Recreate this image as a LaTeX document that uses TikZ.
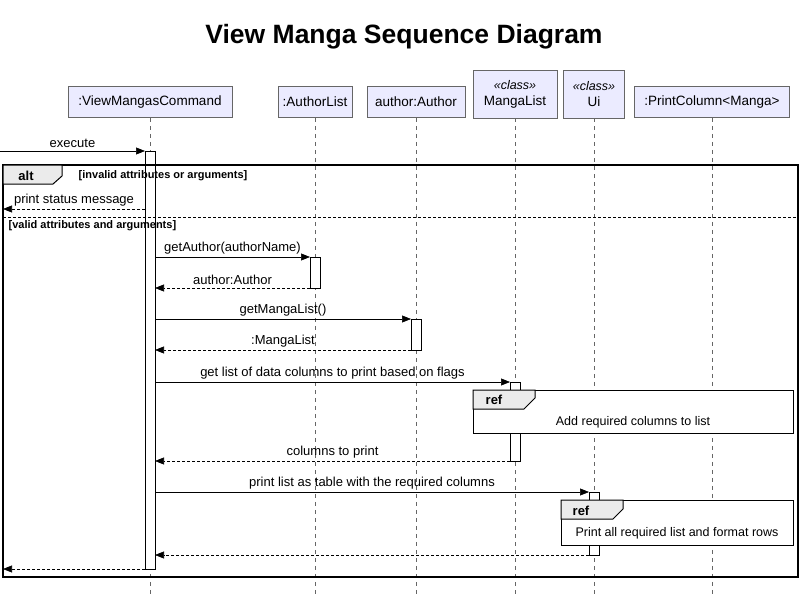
\documentclass[tikz,border=0pt]{standalone}
\usepackage{fontspec}
\setmainfont{Liberation Sans}
\usetikzlibrary{arrows.meta}
\tikzset{every picture/.style={line width=0.75pt}}
\tikzset{
	head/.style={draw=black!60,fill=blue!8,minimum height=31pt,inner sep=3pt,font=\fontsize{13.5}{16}\selectfont},
	life/.style={black!60,dash pattern=on 4pt off 4pt,line width=0.5pt},
	act/.style={draw,fill=white,line width=0.6pt},
	msg/.style={-{Triangle[length=9pt,width=7pt]},line width=0.6pt},
	ret/.style={msg,densely dashed},
	lbl/.style={font=\fontsize{13}{15}\selectfont,above,inner sep=3pt},
	tab/.style={draw,fill=black!8,line width=1pt},
	frm/.style={draw,line width=1.2pt},
}
\begin{document}
\begin{tikzpicture}[x=1pt,y=-1pt]
	\useasboundingbox (0,0) rectangle (805,600);
	\node [font=\bfseries\fontsize{26.5}{30}\selectfont](title) at (404,37) {View Manga Sequence Diagram};
	% participants
	\node [head,minimum width=164pt](vmc) at (150,102) {:ViewMangasCommand};
	\node [head,minimum width=74pt](al) at (315,102) {:AuthorList};
	\node [head,minimum width=98pt](au) at (416,102) {author:Author};
	\node [head,minimum width=84pt,minimum height=48pt,align=center](ml) at (515,94) {{\itshape\fontsize{12.5}{15}\selectfont «class»}\\MangaList};
	\node [head,minimum width=61pt,minimum height=48pt,align=center](ui) at (594,94) {{\itshape\fontsize{12.5}{15}\selectfont «class»}\\Ui};
	\node [head,minimum width=155pt](pc) at (712,102) {:PrintColumn<Manga>};
	\foreach \n in {vmc,al,au,ml,ui,pc}
		\draw [life] (\n.south) -- (\n.south |- 0,595);
	% alt frame
	\fill [white] (145,151) rectangle (155,569);
	\draw [frm] (3,165) rectangle (798,577);
	\draw [tab] (3,165) -- (62,165) -- (62,176) -- (53,184) -- (3,184) -- cycle;
	\node [font=\bfseries\fontsize{13}{15}\selectfont](alt) at (26,176) {alt};
	\node [font=\bfseries\fontsize{11}{13}\selectfont,anchor=west](g1) at (75,176) {[invalid attributes or arguments]};
	\draw [densely dashed,line width=0.5pt] (3,217) -- (798,217);
	\node [font=\bfseries\fontsize{11}{13}\selectfont,anchor=west](g2) at (5,226) {[valid attributes and arguments]};
	% activations
	\draw [line width=0.6pt] (145,151) rectangle (155,569);
	\draw [act] (310,257) rectangle (320,288);
	\draw [act] (411,319) rectangle (421,350);
	\draw [act] (510,382) rectangle (520,461);
	\draw [act] (589,492) rectangle (599,555);
	% refs
	\draw [frm,fill=white,line width=1pt] (473,390) rectangle (793,433);
	\draw [tab] (473,390) -- (535,390) -- (535,398) -- (524,409) -- (473,409) -- cycle;
	\node [font=\bfseries\fontsize{13}{15}\selectfont](r1) at (494,400) {ref};
	\node [font=\fontsize{12.5}{15}\selectfont](r1t) at (633,422) {Add required columns to list};
	\draw [frm,fill=white,line width=1pt] (561,500) rectangle (793,545);
	\draw [tab] (561,500) -- (623,500) -- (623,509) -- (613,519) -- (561,519) -- cycle;
	\node [font=\bfseries\fontsize{13}{15}\selectfont](r2) at (581,511) {ref};
	\node [font=\fontsize{12.5}{15}\selectfont](r2t) at (677,533) {Print all required list and format rows};
	% messages
	\coordinate (in) at (0,151);
	\coordinate (out1) at (3,209);
	\coordinate (out2) at (3,569);
	\draw [msg] (in) -- (145,151) node [lbl,midway] {execute};
	\draw [ret] (145,209) -- (out1) node [lbl,midway] {print status message};
	\draw [msg] (155,257) -- (310,257) node [lbl,midway] {getAuthor(authorName)};
	\draw [ret] (310,288) -- (155,288) node [lbl,midway] {author:Author};
	\draw [msg] (155,319) -- (411,319) node [lbl,midway] {getMangaList()};
	\draw [ret] (411,350) -- (155,350) node [lbl,midway] {:MangaList};
	\draw [msg] (155,382) -- (510,382) node [lbl,midway] {get list of data columns to print based on flags};
	\draw [ret] (510,461) -- (155,461) node [lbl,midway] {columns to print};
	\draw [msg] (155,492) -- (589,492) node [lbl,midway] {print list as table with the required columns};
	\draw [ret] (589,555) -- (155,555);
	\draw [ret] (145,569) -- (out2);
\end{tikzpicture}
\end{document}
